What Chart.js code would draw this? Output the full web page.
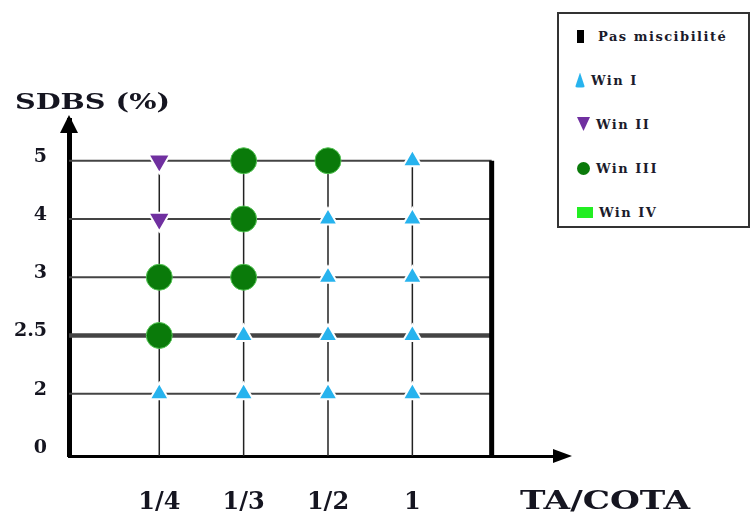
<!DOCTYPE html>
<html>
<head>
<meta charset="utf-8">
<title>SDBS / TA-COTA</title>
<script src="https://cdn.jsdelivr.net/npm/chart.js@4.4.1/dist/chart.umd.min.js"></script>
<style>
  body { margin: 0; background: #fff; }
  #wrap { position: relative; width: 752px; height: 517px; }
  #legend {
    position: absolute; left: 557px; top: 12px; width: 189px; height: 212px;
    border: 2px solid #333; background: #fff;
    font: bold 13px "DejaVu Serif"; color: #1b1b2b; letter-spacing: 1.5px;
  }
  .row { position: absolute; left: 0; height: 20px; display: flex; align-items: center; }
  .mk { display: inline-block; margin-right: 6px; }
</style>
</head>
<body>
<div id="wrap">
  <canvas id="myChart" width="752" height="517"></canvas>
  <div id="legend"></div>
</div>
<script>
// axis categories
const xLabels = ['1/4', '1/3', '1/2', '1'];          // TA/COTA
const yLabels = ['0', '2', '2.5', '3', '4', '5'];     // SDBS (%)

// each point = [TA/COTA, SDBS]
const winI = [['1/4', '2'], ['1/3', '2.5'], ['1/3', '2'],
  ['1/2', '4'], ['1/2', '3'], ['1/2', '2.5'], ['1/2', '2'],
  ['1', '5'], ['1', '4'], ['1', '3'], ['1', '2.5'], ['1', '2']];
const winII = [['1/4', '5'], ['1/4', '4']];
const winIII = [['1/4', '3'], ['1/4', '2.5'], ['1/3', '5'], ['1/3', '4'], ['1/3', '3'], ['1/2', '5']];
const winIV = [];

// no miscibility boundary, a bit past TA/COTA = 1 (in category units)
const noMiscibilityX = 3.94;

function toPoints(arr) {
  return arr.map(p => ({x: xLabels.indexOf(p[0]), y: yLabels.indexOf(p[1])}));
}

// grid lines only inside the miscible region
const gridPlugin = {
  id: 'phaseGrid',
  beforeDatasetsDraw(chart) {
    const ctx = chart.ctx;
    const xs = chart.scales.x, ys = chart.scales.y;
    const left = chart.chartArea.left, bottom = chart.chartArea.bottom;
    const right = xs.getPixelForValue(noMiscibilityX);
    const top = ys.getPixelForValue(yLabels.length - 1);
    ctx.save();
    ctx.strokeStyle = '#444';
    for (let i = 1; i < yLabels.length; i++) {
      const y = ys.getPixelForValue(i);
      ctx.lineWidth = yLabels[i] === '2.5' ? 4.5 : 2;
      ctx.beginPath();
      ctx.moveTo(left, y);
      ctx.lineTo(right, y);
      ctx.stroke();
    }
    ctx.strokeStyle = '#222';
    ctx.lineWidth = 1.5;
    xLabels.forEach((l, i) => {
      const x = xs.getPixelForValue(i);
      ctx.beginPath();
      ctx.moveTo(x, bottom);
      ctx.lineTo(x, top);
      ctx.stroke();
    });
    ctx.restore();
  },
  afterDraw(chart) {
    const ctx = chart.ctx;
    const a = chart.chartArea;
    ctx.save();
    ctx.fillStyle = '#000';
    // arrow heads
    ctx.beginPath();
    ctx.moveTo(a.left, a.top - 5);
    ctx.lineTo(a.left + 9, a.top + 13);
    ctx.lineTo(a.left - 9, a.top + 13);
    ctx.closePath();
    ctx.fill();
    ctx.beginPath();
    ctx.moveTo(a.right + 12, a.bottom);
    ctx.lineTo(a.right - 7, a.bottom - 7);
    ctx.lineTo(a.right - 7, a.bottom + 7);
    ctx.closePath();
    ctx.fill();
    // axis titles
    ctx.fillStyle = '#151520';
    stretchText(ctx, 'SDBS (%)', 15, 103, 155, 'bold 22px "DejaVu Serif"');
    stretchText(ctx, 'TA/COTA', 520, 502, 170, 'bold 26px "DejaVu Serif"');
    ctx.restore();
  }
};

function stretchText(ctx, text, left, midY, width, font) {
  ctx.save();
  ctx.font = font;
  ctx.textBaseline = 'middle';
  const w = ctx.measureText(text).width;
  ctx.translate(left, midY);
  ctx.scale(width / w, 1);
  ctx.fillText(text, 0, 0);
  ctx.restore();
}

const myChart = document.getElementById('myChart');

let phaseChart = new Chart(myChart, {
  type: 'scatter',
  data: {
    datasets: [
      {
        label: 'Pas miscibilité',
        type: 'line',
        data: [{x: noMiscibilityX, y: -0.07}, {x: noMiscibilityX, y: yLabels.length - 1}],
        borderColor: '#000',
        borderWidth: 5,
        pointRadius: 0,
        clip: false
      },
      {
        label: 'Win I',
        data: toPoints(winI),
        pointStyle: 'triangle',
        radius: 11,
        backgroundColor: '#27b3ee',
        borderColor: '#ffffff',
        borderWidth: 2
      },
      {
        label: 'Win II',
        data: toPoints(winII),
        pointStyle: 'triangle',
        rotation: 180,
        radius: 12.5,
        backgroundColor: '#7030a0',
        borderColor: '#ffffff',
        borderWidth: 2
      },
      {
        label: 'Win III',
        data: toPoints(winIII),
        pointStyle: 'circle',
        radius: 13,
        backgroundColor: '#0a7a0a',
        borderColor: '#55c455',
        borderWidth: 1
      },
      {
        label: 'Win IV',
        data: toPoints(winIV),
        pointStyle: 'rect',
        radius: 7,
        backgroundColor: '#22ee22'
      }
    ]
  },
  options: {
    responsive: false,
    animation: false,
    events: [],
    layout: { padding: { left: 0, top: 120, right: 192, bottom: 0 } },
    plugins: { legend: { display: false }, tooltip: { enabled: false } },
    scales: {
      x: {
        type: 'linear',
        min: -1.07,
        max: 4.75,
        grid: { display: false, drawTicks: false },
        border: { display: true, color: '#000', width: 3 },
        afterBuildTicks: s => { s.ticks = xLabels.map((l, i) => ({value: i})); },
        afterFit: s => { s.height = 61; },
        ticks: {
          callback: v => xLabels[v],
          font: { family: 'DejaVu Serif', size: 24, weight: 'bold' },
          color: '#151520',
          padding: 32,
          maxRotation: 0,
          autoSkip: false
        }
      },
      y: {
        type: 'linear',
        min: -0.07,
        max: 5.7,
        grid: { display: false, drawTicks: false },
        border: { display: true, color: '#000', width: 5 },
        afterBuildTicks: s => { s.ticks = yLabels.map((l, i) => ({value: i})); },
        afterFit: s => { s.width = 69; },
        ticks: {
          callback: v => yLabels[v],
          font: { family: 'DejaVu Serif', size: 19, weight: 'bold' },
          color: '#151520',
          padding: 22,
          labelOffset: -4,
          autoSkip: false
        }
      }
    }
  },
  plugins: [gridPlugin]
});

// legend box (html)
const legendItems = [
  {text: 'Pas miscibilité', css: 'width:7px;height:13px;background:#000;margin-left:18px;margin-right:14px'},
  {text: 'Win I', css: 'width:10px;height:15px;background:#27b3ee;clip-path:polygon(50% 0,100% 100%,0 100%);border-radius:3px;margin-left:16px'},
  {text: 'Win II', css: 'width:13px;height:14px;background:#7030a0;clip-path:polygon(0 0,100% 0,50% 100%);margin-left:18px'},
  {text: 'Win III', css: 'width:13px;height:13px;background:#0a7a0a;border-radius:50%;margin-left:18px'},
  {text: 'Win IV', css: 'width:16px;height:11px;background:#22ee22;margin-left:18px'}
];
const legend = document.getElementById('legend');
legendItems.forEach((item, i) => {
  const row = document.createElement('div');
  row.className = 'row';
  row.style.top = (12 + i * 44) + 'px';
  row.innerHTML = '<span class="mk" style="' + item.css + '"></span><span>' + item.text + '</span>';
  legend.appendChild(row);
});
</script>
</body>
</html>
